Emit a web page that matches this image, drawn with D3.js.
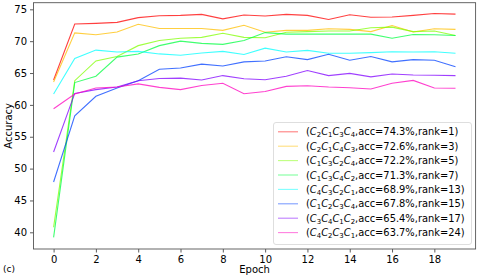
<!DOCTYPE html>
<html>
<head>
<meta charset="utf-8">
<script src="https://cdn.jsdelivr.net/npm/d3@7"></script>
<style>
  body { margin: 0; background: #fff; }
  text { font-family: "DejaVu Sans", sans-serif; fill: #000; }
</style>
</head>
<body>
<script>
var w = 478;
var h = 277;

// epochs 0..19
var epochs = d3.range(20);

// legend labels: permutation of C indices, accuracy and rank
var perms = [["2","1","3","4"], ["2","1","4","3"], ["1","3","2","4"], ["1","3","4","2"],
             ["4","3","2","1"], ["1","2","3","4"], ["3","4","1","2"], ["4","2","3","1"]];
var accs = ["74.3", "72.6", "72.2", "71.3", "68.9", "67.8", "65.4", "63.7"];
var ranks = [1, 3, 5, 7, 13, 15, 17, 24];
var colors = ["#ff0000", "#ffbf00", "#80ff00", "#00ff40", "#00ffff", "#0040ff", "#8000ff", "#ff00bf"];

// accuracy per epoch for each run
var runs = [
  [63.9, 72.7, 72.8, 72.95, 73.7, 74.0, 74.05, 74.2, 73.5, 74.1, 73.95, 74.2, 74.05, 73.4, 74.15, 73.75, 73.8, 74.05, 74.35, 74.25],
  [63.6, 71.3, 71.0, 71.45, 72.65, 72.0, 72.0, 72.0, 71.7, 72.5, 71.4, 71.7, 71.7, 71.95, 71.85, 71.5, 72.45, 71.45, 71.95, 71.85],
  [40.8, 63.8, 66.9, 67.6, 69.3, 70.1, 70.45, 70.6, 71.25, 70.6, 70.55, 71.4, 71.5, 71.6, 71.6, 72.1, 72.2, 71.5, 71.6, 70.9],
  [39.2, 63.5, 64.5, 67.5, 68.0, 69.3, 70.0, 69.65, 69.5, 70.1, 71.35, 71.1, 71.1, 71.1, 71.1, 71.1, 70.45, 71.05, 71.0, 70.9],
  [61.7, 67.3, 68.6, 68.3, 68.4, 68.0, 67.8, 68.15, 68.4, 67.9, 68.9, 68.3, 68.55, 68.1, 68.1, 68.2, 68.35, 68.3, 68.35, 68.1],
  [47.9, 58.3, 61.35, 62.65, 63.8, 65.6, 65.8, 66.4, 66.1, 66.75, 66.9, 67.55, 67.1, 67.95, 67.0, 67.6, 66.75, 67.1, 67.0, 66.0],
  [52.6, 61.8, 62.4, 62.8, 63.8, 64.15, 64.2, 63.9, 64.6, 64.1, 63.95, 64.5, 65.4, 64.6, 64.95, 64.4, 64.85, 64.7, 64.65, 64.6],
  [59.4, 61.7, 62.65, 62.8, 63.3, 62.75, 62.4, 63.05, 63.4, 61.75, 62.1, 62.9, 63.0, 62.8, 62.7, 62.5, 63.4, 63.85, 62.65, 62.6]
];

var yTicks = [40, 45, 50, 55, 60, 65, 70, 75];
var xTicks = [0, 2, 4, 6, 8, 10, 12, 14, 16, 18];

var svg = d3.select("body").append("svg")
  .attr("width", w)
  .attr("height", h);

var pLeft = 33.5, pRight = 475.6, pTop = 2.7, pBottom = 249;

var x = d3.scaleLinear().domain([-0.95, 19.95]).range([pLeft, pRight]);
var y = d3.scaleLinear().domain([37.38, 76.04]).range([pBottom, pTop]);

// axes
var xAxis = svg.append("g")
  .attr("transform", "translate(0," + pBottom + ")")
  .call(d3.axisBottom(x).tickValues(xTicks).tickSize(3.5).tickPadding(3).tickSizeOuter(0));
var yAxis = svg.append("g")
  .attr("transform", "translate(" + pLeft + ",0)")
  .call(d3.axisLeft(y).tickValues(yTicks).tickSize(3.5).tickPadding(3).tickSizeOuter(0));

[xAxis, yAxis].forEach(function(a) {
  a.select(".domain").remove();
  a.selectAll("text").style("font-size", "10px").style("font-family", "DejaVu Sans");
  a.selectAll("line").attr("stroke", "#333").attr("stroke-width", 0.8);
});

// frame
svg.append("rect")
  .attr("x", pLeft).attr("y", pTop)
  .attr("width", pRight - pLeft).attr("height", pBottom - pTop)
  .attr("fill", "none")
  .attr("stroke", "#555")
  .attr("stroke-width", 0.9);

// lines
var line = d3.line()
  .x(function(d, i) { return x(epochs[i]); })
  .y(function(d) { return y(d); });

svg.append("g").selectAll("path")
  .data(runs)
  .enter().append("path")
  .attr("d", line)
  .attr("fill", "none")
  .attr("stroke", function(d, i) { return colors[i]; })
  .attr("stroke-opacity", 0.75)
  .attr("stroke-width", 1.1);

// labels
svg.append("text")
  .attr("x", (pLeft + pRight) / 2)
  .attr("y", 273)
  .attr("text-anchor", "middle")
  .style("font-size", "10px")
  .text("Epoch");

svg.append("text")
  .attr("transform", "translate(12," + ((pTop + pBottom) / 2) + ") rotate(-90)")
  .attr("text-anchor", "middle")
  .style("font-size", "10px")
  .text("Accuracy");

svg.append("text")
  .attr("x", 3)
  .attr("y", 272)
  .style("font-size", "9px")
  .text("(c)");

// legend
var legX = 273.5, legY = 122.5, legW = 198, legH = 122;
var legend = svg.append("g");

legend.append("rect")
  .attr("x", legX).attr("y", legY)
  .attr("width", legW).attr("height", legH)
  .attr("rx", 2.5)
  .attr("fill", "#fff")
  .attr("fill-opacity", 0.8)
  .attr("stroke", "#d6d6d6")
  .attr("stroke-width", 0.8);

var rows = legend.selectAll("g.row")
  .data(perms)
  .enter().append("g")
  .attr("class", "row")
  .attr("transform", function(d, i) { return "translate(" + legX + "," + (legY + 9.3 + i * 14.4) + ")"; });

rows.append("line")
  .attr("x1", 4.5).attr("x2", 24.5)
  .attr("y1", 0).attr("y2", 0)
  .attr("stroke", function(d, i) { return colors[i]; })
  .attr("stroke-opacity", 0.5)
  .attr("stroke-width", 1.1);

var labels = rows.append("text")
  .attr("x", 32.5)
  .attr("y", 3.6)
  .style("font-size", "9.9px");

labels.each(function(d, i) {
  var t = d3.select(this);
  t.append("tspan").text("(");
  d.forEach(function(k, j) {
    t.append("tspan").attr("dy", j === 0 ? 0 : -2).style("font-style", "italic").text("C");
    t.append("tspan").attr("dy", 2).style("font-size", "6.9px").text(k);
  });
  t.append("tspan").attr("dy", -2).text(",acc=" + accs[i] + "%,rank=" + ranks[i] + ")");
});
</script>
</body>
</html>
